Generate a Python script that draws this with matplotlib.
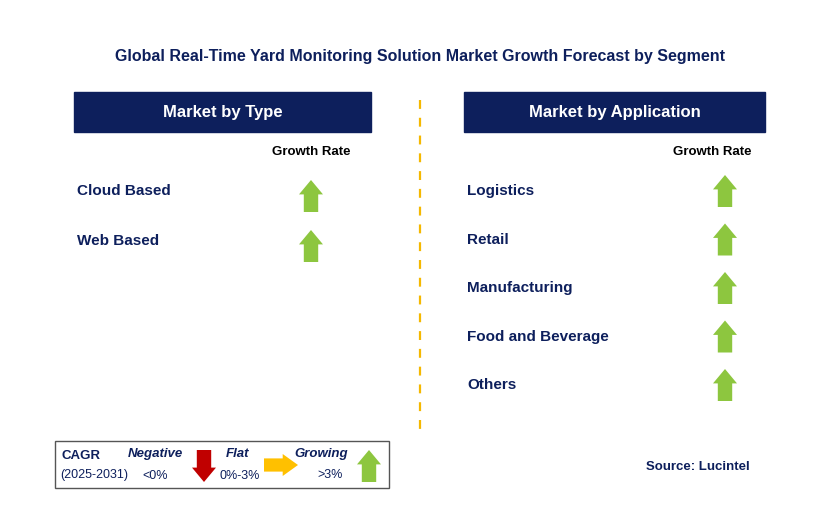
import matplotlib
matplotlib.use("Agg")
import matplotlib.pyplot as plt
from matplotlib.patches import Rectangle, Polygon

plt.rcParams["font.family"] = "Liberation Sans"

title = "Global Real-Time Yard Monitoring Solution Market Growth Forecast by Segment"
types = ["Cloud Based", "Web Based"]
type_growth = ["up", "up"]
apps = ["Logistics", "Retail", "Manufacturing", "Food and Beverage", "Others"]
app_growth = ["up", "up", "up", "up", "up"]

NAVY = "#0d1f5c"
GREEN = "#8dc63f"
RED = "#c00000"
YEL = "#ffc000"

fig = plt.figure(figsize=(8.29, 5.16), dpi=100)
ax = fig.add_axes([0, 0, 1, 1])
ax.set_xlim(0, 829); ax.set_ylim(516, 0); ax.axis("off")

def arrow(cx, cy, d, color, w=24, h=32):
    hw = w/2; sw = w*0.3; hh = h*0.45
    if d == "up":
        pts = [(cx, cy-h/2), (cx+hw, cy-h/2+hh), (cx+sw, cy-h/2+hh), (cx+sw, cy+h/2),
               (cx-sw, cy+h/2), (cx-sw, cy-h/2+hh), (cx-hw, cy-h/2+hh)]
    elif d == "down":
        pts = [(cx, cy+h/2), (cx+hw, cy+h/2-hh), (cx+sw, cy+h/2-hh), (cx+sw, cy-h/2),
               (cx-sw, cy-h/2), (cx-sw, cy+h/2-hh), (cx-hw, cy+h/2-hh)]
    else:  # right
        pts = [(cx+h/2, cy), (cx+h/2-hh, cy-hw), (cx+h/2-hh, cy-sw), (cx-h/2, cy-sw),
               (cx-h/2, cy+sw), (cx+h/2-hh, cy+sw), (cx+h/2-hh, cy+hw)]
    ax.add_patch(Polygon(pts, closed=True, color=color, lw=0))

ax.text(420, 57, title, ha="center", va="center", fontsize=11.5, fontweight="bold", color=NAVY)

for x0, x1, lbl in [(74, 371, "Market by Type"), (464, 765, "Market by Application")]:
    ax.add_patch(Rectangle((x0, 92), x1-x0, 40, color=NAVY))
    ax.text((x0+x1)/2, 112, lbl, ha="center", va="center", fontsize=12, fontweight="bold", color="white")

ax.plot([420, 420], [100, 430], ls=(0, (4, 4)), color="#f5b800", lw=1.6)

ax.text(311, 152, "Growth Rate", ha="center", va="center", fontsize=9.5, fontweight="bold", color="black")
ax.text(712, 152, "Growth Rate", ha="center", va="center", fontsize=9.5, fontweight="bold", color="black")

for i, (t, g) in enumerate(zip(types, type_growth)):
    y = 191 + i*50
    ax.text(77, y, t, ha="left", va="center", fontsize=11, fontweight="bold", color=NAVY)
    arrow(311, y+5, g, GREEN)
for i, (t, g) in enumerate(zip(apps, app_growth)):
    y = 191 + i*48.5
    ax.text(467, y, t, ha="left", va="center", fontsize=11, fontweight="bold", color=NAVY)
    arrow(725, y, g, GREEN)

ax.add_patch(Rectangle((55, 441), 334, 47, fill=False, ec="#555555", lw=1))
ax.text(62, 456, "CAGR", fontsize=9.5, fontweight="bold", color=NAVY, va="center")
ax.text(60, 475, "(2025-2031)", fontsize=9, color=NAVY, va="center")
ax.text(155, 454, "Negative", fontsize=9.5, fontweight="bold", style="italic", color=NAVY, ha="center", va="center")
ax.text(155, 476, "<0%", fontsize=9, color=NAVY, ha="center", va="center")
arrow(204, 466, "down", RED, w=24, h=32)
ax.text(238, 454, "Flat", fontsize=9.5, fontweight="bold", style="italic", color=NAVY, ha="center", va="center")
ax.text(240, 476, "0%-3%", fontsize=9, color=NAVY, ha="center", va="center")
arrow(281, 465, "right", YEL, w=22, h=34)
ax.text(321, 454, "Growing", fontsize=9.5, fontweight="bold", style="italic", color=NAVY, ha="center", va="center")
ax.text(330, 475, ">3%", fontsize=9, color=NAVY, ha="center", va="center")
arrow(369, 466, "up", GREEN, w=24, h=32)

ax.text(750, 467, "Source: Lucintel", fontsize=9.5, fontweight="bold", color=NAVY, ha="right", va="center")

fig.savefig("out.png", dpi=100)
